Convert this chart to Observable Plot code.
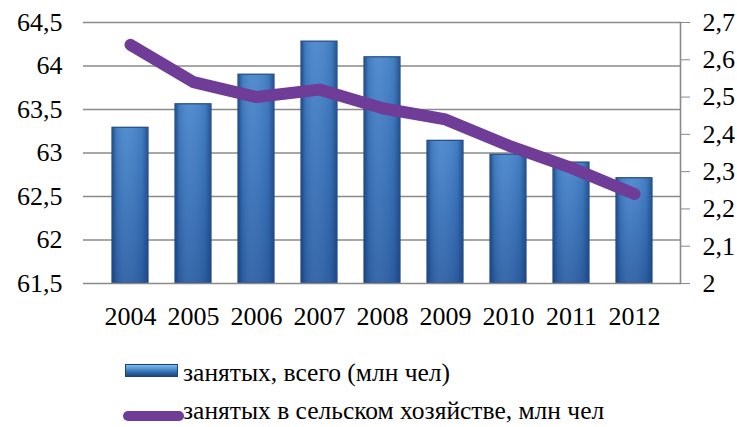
<!DOCTYPE html>
<html><head><meta charset="utf-8">
<script src="https://cdn.jsdelivr.net/npm/d3@7"></script>
<script src="https://cdn.jsdelivr.net/npm/@observablehq/plot@0.6"></script>
<style>
body{margin:0;background:#fff;font-family:"Liberation Serif","Times New Roman",serif;}
#wrap{position:relative;width:737px;height:427px;overflow:hidden;}
.leg{position:absolute;left:0;font-family:"Liberation Serif","Times New Roman",serif;font-size:25.5px;color:#000;white-space:nowrap;line-height:28px;}
.sw1{position:absolute;left:125px;width:53px;height:13px;background:linear-gradient(#7cbcec 0%,#5a9ad8 30%,#2e65a8 70%,#1c4680 100%);border:1px solid #1d4378;box-sizing:border-box;}
.sw2{position:absolute;left:123px;width:61px;height:10px;border-radius:5px;background:#6f3c98;}
</style></head>
<body><div id="wrap"></div>
<script>
const years = ["2004","2005","2006","2007","2008","2009","2010","2011","2012"];
const totalEmployed = [63.29, 63.56, 63.90, 64.28, 64.10, 63.14, 62.98, 62.89, 62.71];
const agriEmployed = [2.64, 2.54, 2.50, 2.52, 2.47, 2.44, 2.37, 2.31, 2.24];
const leftTicks = [61.5, 62, 62.5, 63, 63.5, 64, 64.5];
const rightTicks = [2, 2.1, 2.2, 2.3, 2.4, 2.5, 2.6, 2.7];
const legendLabels = ["занятых, всего (млн чел)", "занятых в сельском хозяйстве, млн чел"];

const L0 = 61.5, L1 = 64.5, R0 = 2, R1 = 2.7;
const toLeft = v => L0 + (v - R0) / (R1 - R0) * (L1 - L0);
const toRight = v => R0 + (v - L0) / (L1 - L0) * (R1 - R0);
const comma = v => String(+v.toFixed(1)).replace(".", ",");

const bars = years.map((y, i) => ({year: y, value: totalEmployed[i]}));
const line = years.map((y, i) => ({year: y, value: toLeft(agriEmployed[i])}));

const chart = Plot.plot({
  width: 737, height: 340,
  marginTop: 22, marginBottom: 57, marginLeft: 83, marginRight: 57,
  style: {fontFamily: "'Liberation Serif','Times New Roman',serif", fontSize: "26px", color: "#000", background: "#fff"},
  x: {domain: years, padding: 0.43, label: null},
  y: {domain: [L0, L1], label: null},
  marks: [
    Plot.ruleY(leftTicks.slice(1), {stroke: "#8a8a8a", strokeWidth: 1.6}),
    Plot.barY(bars, {x: "year", y1: L0, y2: "value", fill: "url(#barGrad)", stroke: "#1e4780", strokeWidth: 1.2}),
    Plot.barY(bars, {x: "year", y1: L0, y2: "value", fill: "url(#edgeGrad)", inset: 0.6}),
    Plot.tickY(bars, {x: "year", y: "value", stroke: "url(#topGrad)", strokeWidth: 8, dy: 4.6, inset: 1}),
    Plot.ruleY([L0], {stroke: "#8a8a8a", strokeWidth: 1.6}),
    Plot.frame({anchor: "right", stroke: "#8a8a8a", strokeWidth: 1.6}),
    Plot.line(line, {x: "year", y: "value", stroke: "#6f3c98", strokeWidth: 12, strokeLinecap: "round", strokeLinejoin: "round"}),
    Plot.axisY(leftTicks, {anchor: "left", tickSize: 0, tickPadding: 21, tickFormat: comma}),
    Plot.axisY(rightTicks.map(toLeft), {anchor: "right", tickSize: 9, tickPadding: 13, stroke: "#8a8a8a", tickFormat: v => comma(toRight(v))}),
    Plot.axisX({tickSize: 0, tickPadding: 23})
  ]
});

const ns = "http://www.w3.org/2000/svg";
const defs = document.createElementNS(ns, "defs");
defs.innerHTML = `
<linearGradient id="barGrad" x1="0" x2="0" y1="0" y2="1">
 <stop offset="0" stop-color="#4886cc"/>
 <stop offset="0.5" stop-color="#3872ba"/>
 <stop offset="1" stop-color="#2b5fa4"/>
</linearGradient>
<linearGradient id="edgeGrad" x1="0" x2="1" y1="0" y2="0">
 <stop offset="0" stop-color="#163a70" stop-opacity="0.7"/>
 <stop offset="0.1" stop-color="#163a70" stop-opacity="0.15"/>
 <stop offset="0.4" stop-color="#ffffff" stop-opacity="0.06"/>
 <stop offset="0.85" stop-color="#163a70" stop-opacity="0.12"/>
 <stop offset="1" stop-color="#163a70" stop-opacity="0.6"/>
</linearGradient>
<linearGradient id="topGrad" x1="0" x2="1" y1="0" y2="0">
 <stop offset="0" stop-color="#4a86c8"/>
 <stop offset="0.18" stop-color="#78b6ea"/>
 <stop offset="0.82" stop-color="#78b6ea"/>
 <stop offset="1" stop-color="#4a86c8"/>
</linearGradient>`;
chart.insertBefore(defs, chart.firstChild);

const wrap = document.getElementById("wrap");
wrap.appendChild(chart);
const l1 = document.createElement("div");
l1.className = "leg"; l1.style.top = "359px"; l1.style.left = "183px"; l1.textContent = legendLabels[0];
const s1 = document.createElement("div"); s1.className = "sw1"; s1.style.top = "364px";
const l2 = document.createElement("div");
l2.className = "leg"; l2.style.top = "397px"; l2.style.left = "183px"; l2.textContent = legendLabels[1];
const s2 = document.createElement("div"); s2.className = "sw2"; s2.style.top = "411px";
wrap.append(s1, l1, s2, l2);
</script></body></html>
